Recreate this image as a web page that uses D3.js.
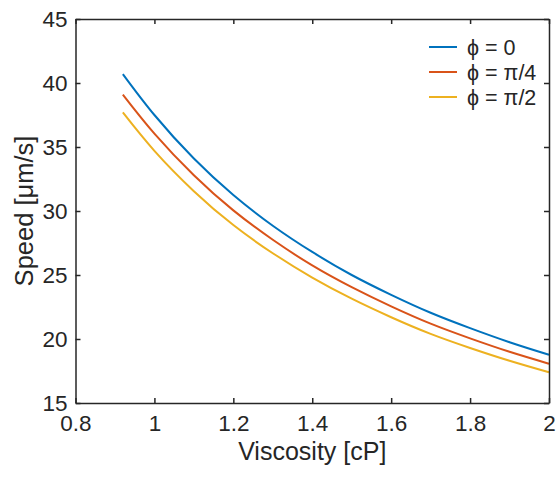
<!DOCTYPE html>
<html><head><meta charset="utf-8">
<script src="https://cdn.jsdelivr.net/npm/d3@7"></script>
<style>
body{margin:0;background:#fff;}
text{font-family:"Liberation Sans",Arial,Helvetica,sans-serif;fill:#262626;}
</style></head>
<body><svg id="c" width="556" height="477"></svg>
<script>
const viscosity = [0.92, 1.0, 1.1, 1.2, 1.3, 1.4, 1.5, 1.6, 1.7, 1.8, 1.9, 2.0];
const speedPhi0   = [40.7, 37.5, 34.1, 31.25, 28.85, 26.8, 25.0, 23.45, 22.05, 20.85, 19.75, 18.77];
const speedPhiQ   = [39.1, 36.05, 32.8, 30.05, 27.75, 25.75, 24.05, 22.55, 21.2, 20.05, 19.0, 18.07];
const speedPhiH   = [37.7, 34.7, 31.55, 28.9, 26.7, 24.8, 23.15, 21.7, 20.4, 19.3, 18.3, 17.4];
const seriesNames = ["ϕ = 0", "ϕ = π/4", "ϕ = π/2"];
const seriesColors = ["#0072BD", "#D95319", "#EDB120"];
const xTicks = [0.8, 1, 1.2, 1.4, 1.6, 1.8, 2];
const yTicks = [15, 20, 25, 30, 35, 40, 45];

const svg = d3.select("#c");
const L = 75.5, R = 549, T = 19, B = 403;
const x = d3.scaleLinear().domain([0.8, 2]).range([L, R]);
const y = d3.scaleLinear().domain([15, 45]).range([B, T]);

const series = [speedPhi0, speedPhiQ, speedPhiH];
const line = d3.line().x(d => x(d[0])).y(d => y(d[1])).curve(d3.curveNatural);
series.forEach((s, i) => {
  svg.append("path").datum(viscosity.map((v, j) => [v, s[j]]))
    .attr("d", line).attr("fill", "none").attr("stroke", seriesColors[i]).attr("stroke-width", 2);
});

const fmt = d => String(d);
const tl = 5;
const gx = svg.append("g").attr("transform", `translate(0,${B})`)
  .call(d3.axisBottom(x).tickValues(xTicks).tickFormat(fmt).tickSizeInner(-tl).tickSizeOuter(0).tickPadding(12));
const gxt = svg.append("g").attr("transform", `translate(0,${T})`)
  .call(d3.axisTop(x).tickValues(xTicks).tickFormat("").tickSizeInner(-tl).tickSizeOuter(0));
const gy = svg.append("g").attr("transform", `translate(${L},0)`)
  .call(d3.axisLeft(y).tickValues(yTicks).tickFormat(fmt).tickSizeInner(-tl).tickSizeOuter(0).tickPadding(8));
const gyr = svg.append("g").attr("transform", `translate(${R},0)`)
  .call(d3.axisRight(y).tickValues(yTicks).tickFormat("").tickSizeInner(-tl).tickSizeOuter(0));
[gx, gxt, gy, gyr].forEach(g => {
  g.select(".domain").attr("stroke", "#262626").attr("stroke-width", 1.5);
  g.selectAll(".tick line").attr("stroke", "#262626").attr("stroke-width", 1.5);
  g.selectAll(".tick text").attr("font-size", 22.5).attr("fill", "#262626")
    .style("font-family", "'Liberation Sans',Arial,sans-serif");
});
gx.selectAll(".tick text").attr("dy", "0.71em");

svg.append("text").attr("x", (L + R) / 2).attr("y", 460).attr("text-anchor", "middle")
  .attr("font-size", 25).text("Viscosity [cP]");
svg.append("text").attr("transform", `translate(33,${(T + B) / 2}) rotate(-90)`)
  .attr("text-anchor", "middle").attr("font-size", 25.5).text("Speed [μm/s]");

const leg = svg.append("g");
seriesNames.forEach((n, i) => {
  const yy = 47 + i * 25;
  leg.append("line").attr("x1", 429).attr("x2", 457).attr("y1", yy).attr("y2", yy)
    .attr("stroke", seriesColors[i]).attr("stroke-width", 2);
  leg.append("text").attr("x", 467).attr("y", yy + 7.5).attr("font-size", 21.5).text(n);
});
</script></body></html>
